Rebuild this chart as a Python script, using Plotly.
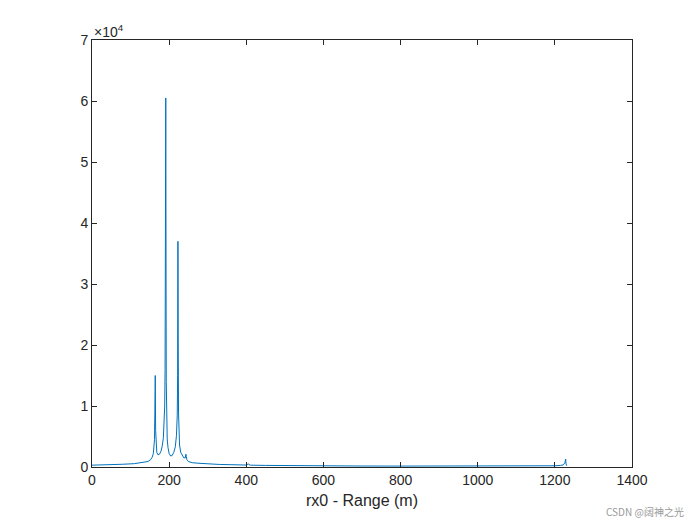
import plotly.graph_objects as go

range_m = [0, 20, 50, 80, 110, 130, 145, 152, 156, 159, 161, 162, 163, 164, 165, 166, 168, 171, 175, 179, 182, 185, 187, 188.5, 189.5, 190.5, 191.2, 191.8, 192.5, 193.5, 195, 197, 200, 204, 208, 212, 216, 219, 221, 222, 222.8, 223.5, 224.3, 225.5, 227, 230, 234, 238, 242, 243.5, 244.5, 246, 250, 260, 280, 300, 330, 360, 400, 405, 410, 450, 500, 600, 700, 800, 900, 1000, 1100, 1150, 1200, 1215, 1222, 1226, 1228, 1229, 1230, 1231]
amplitude = [300, 320, 380, 450, 550, 700, 900, 1200, 1600, 2200, 3200, 4500, 9000, 15000, 6000, 3500, 2400, 2000, 2100, 2600, 3400, 4800, 7000, 10000, 16000, 32000, 60500, 40000, 14000, 7500, 4600, 3200, 2200, 1800, 1900, 2400, 3300, 5200, 8500, 15000, 37000, 20000, 9000, 5500, 3600, 2400, 1800, 1500, 1500, 2100, 1700, 1200, 900, 700, 600, 500, 420, 380, 320, 500, 300, 260, 220, 180, 160, 150, 140, 140, 150, 160, 200, 260, 350, 700, 1300, 500, 300, 200]

fig = go.Figure(go.Scatter(x=range_m, y=amplitude, mode="lines",
                           line=dict(color="#0072BD", width=1)))
axis = dict(showline=True, mirror="ticks", linecolor="#262626", linewidth=1,
            ticks="inside", ticklen=5, tickcolor="#262626", showgrid=False,
            zeroline=False, tickfont=dict(size=14, color="#262626"))
fig.update_layout(
    width=700, height=525, plot_bgcolor="white", paper_bgcolor="white",
    margin=dict(l=84, r=76, t=32, b=66), showlegend=False,
    font=dict(family="Liberation Sans, Arial", color="#262626"),
    xaxis=dict(axis, range=[0, 1400], dtick=200,
               title=dict(text="rx0 - Range (m)", font=dict(size=16), standoff=8)),
    yaxis=dict(axis, range=[0, 70000], tickvals=[0, 10000, 20000, 30000, 40000, 50000, 60000, 70000],
               ticktext=[str(i) for i in range(8)]),
    annotations=[
        dict(text="×10<sup>4</sup>", xref="paper", yref="paper", x=0, y=1,
             xanchor="left", yanchor="bottom", showarrow=False, font=dict(size=14), yshift=-2),
        dict(text="CSDN @阔神之光", xref="paper", yref="paper", x=1.1, y=-0.105,
             xanchor="right", yanchor="middle", showarrow=False,
             font=dict(size=10, color="#999999", family="Noto Sans CJK SC")),
    ],
)
fig.write_html("out.html")
